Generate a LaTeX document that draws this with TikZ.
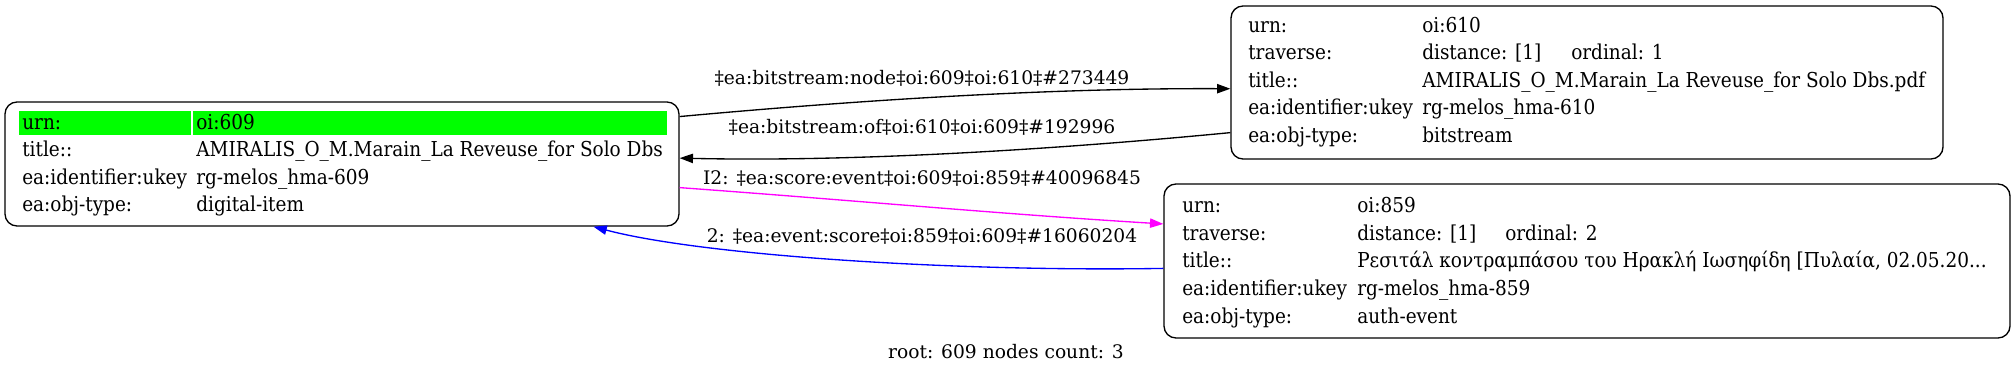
\documentclass[tikz,border=0pt]{standalone}
\usepackage{fontspec}
\setmainfont{DejaVu Serif}
\newfontfamily\recfont{DejaVu Serif Condensed}
\usetikzlibrary{arrows.meta, fit}

\definecolor{gvgreen}{HTML}{00FF00}
\definecolor{gvmagenta}{HTML}{FF00FF}
\definecolor{gvblue}{HTML}{0000FF}

\begin{document}
\begin{tikzpicture}[
    x=0.75pt, y=-0.75pt,
    rec/.style   = {draw=black, line width=1pt, rounded corners=9pt, inner sep=0pt},
    hl/.style    = {fill=gvgreen, inner sep=0pt},
    cell/.style  = {font=\recfont\fontsize{15.4pt}{17pt}\selectfont, anchor=base west, inner sep=0pt},
    elabel/.style= {font=\fontsize{14pt}{16pt}\selectfont, anchor=base, inner sep=0pt},
    edge/.style  = {line width=1pt, -{Triangle[length=10pt, width=7pt]}},
]
\useasboundingbox (0,0) rectangle (2015,375);

%% ---- Row geometry (baselines, px) ----
\def\dy{27.6}
\def\yA{129}     % oi:609
\def\yB{32}      % oi:610
\def\yC{212.7}   % oi:859

%% ---- Record oi:609 (root) ----
\node[rec, fit={(5,102)(679,226)}] (n609) {};
\node[hl, fit={(19,110.5)(191,135)}] (h609k) {};
\node[hl, fit={(193,110.5)(667,135)}] (h609v) {};
\foreach \k/\v [count=\r] in {urn:/oi:609,
    title::/{AMIRALIS\_O\_M.Marain\_La Reveuse\_for Solo Dbs},
    ea:identifier:ukey/rg-melos\_hma-609,
    ea:obj-type:/digital-item}{
    \node[cell] (a-k\r) at (22,  {\yA+(\r-1)*\dy}) {\k};
    \node[cell] (a-v\r) at (196, {\yA+(\r-1)*\dy}) {\v};
}

%% ---- Record oi:610 ----
\node[rec, fit={(1231,6)(1943,159)}] (n610) {};
\foreach \k/\v [count=\r] in {urn:/oi:610,
    traverse:/{distance: [1]},
    title::/{AMIRALIS\_O\_M.Marain\_La Reveuse\_for Solo Dbs.pdf},
    ea:identifier:ukey/rg-melos\_hma-610,
    ea:obj-type:/bitstream}{
    \node[cell] (b-k\r) at (1248, {\yB+(\r-1)*\dy}) {\k};
    \node[cell] (b-v\r) at (1422, {\yB+(\r-1)*\dy}) {\v};
}
\node[cell] (b-ord) at (1571, {\yB+\dy}) {ordinal: 1};

%% ---- Record oi:859 ----
\node[rec, fit={(1164,184)(2010,338)}] (n859) {};
\foreach \k/\v [count=\r] in {urn:/oi:859,
    traverse:/{distance: [1]},
    title::/{Ρεσιτάλ κοντραμπάσου του Ηρακλή Ιωσηφίδη [Πυλαία, 02.05.20...},
    ea:identifier:ukey/rg-melos\_hma-859,
    ea:obj-type:/auth-event}{
    \node[cell] (c-k\r) at (1182, {\yC+(\r-1)*\dy}) {\k};
    \node[cell] (c-v\r) at (1357, {\yC+(\r-1)*\dy}) {\v};
}
\node[cell] (c-ord) at (1505, {\yC+\dy}) {ordinal: 2};

%% ---- Edges ----
\draw[edge] (n609.8) .. controls (860,100) and (1050,88) .. (n610.181);
\draw[edge] (n610.188) .. controls (1050,150) and (850,162) .. (n609.1);
\draw[edge, gvmagenta] (n609.-4) .. controls (850,200) and (1000,214) .. (n859.175);
\draw[edge, gvblue] (n859.181.5) .. controls (950,272) and (700,255) .. (n609.-14.3);

%% ---- Edge labels ----
\node[elabel] (l1) at (922,84)  {‡ea:bitstream:node‡oi:609‡oi:610‡\#273449};
\node[elabel] (l2) at (922,133) {‡ea:bitstream:of‡oi:610‡oi:609‡\#192996};
\node[elabel] (l3) at (922,184) {I2: ‡ea:score:event‡oi:609‡oi:859‡\#40096845};
\node[elabel] (l4) at (922,242) {2: ‡ea:event:score‡oi:859‡oi:609‡\#16060204};

%% ---- Graph caption ----
\node[elabel] (cap) at (1006,358) {root: 609 nodes count: 3};

\end{tikzpicture}
\end{document}
